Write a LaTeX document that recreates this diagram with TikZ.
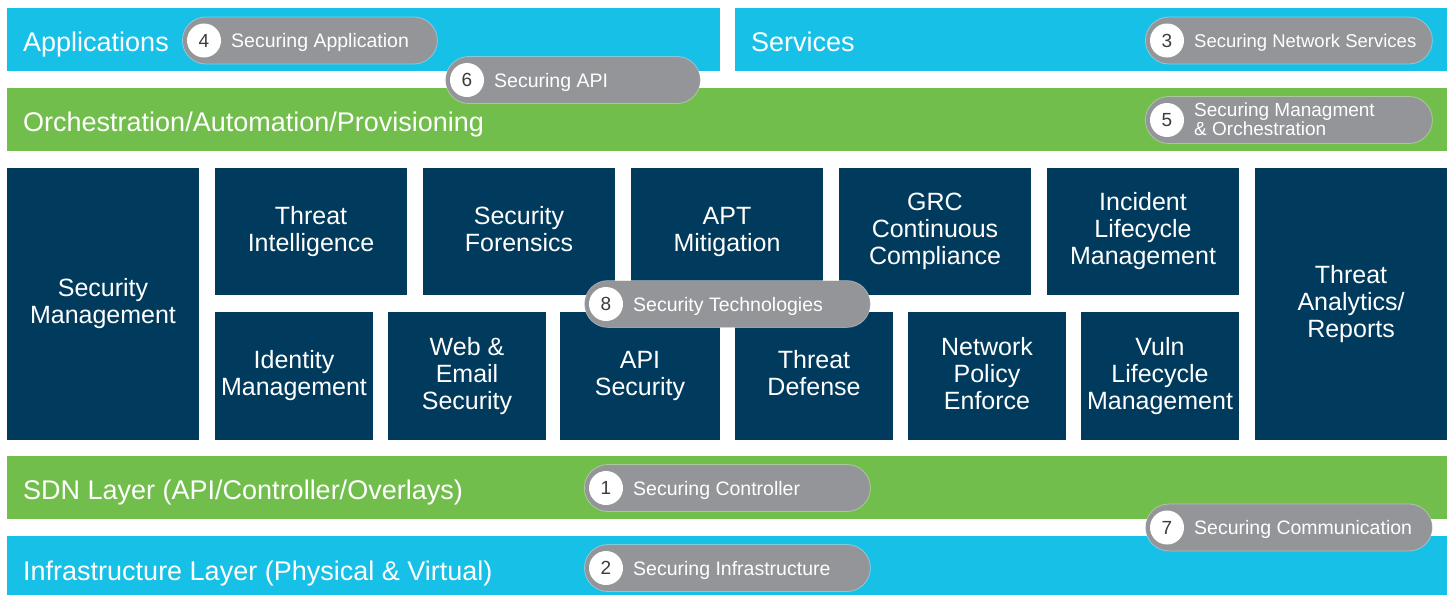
\documentclass[tikz,border=0pt]{standalone}
\usepackage{fontspec}
\setmainfont{Liberation Sans}
\definecolor{cyanL}{RGB}{23,192,230}
\definecolor{greenL}{RGB}{114,190,76}
\definecolor{navyB}{RGB}{0,58,92}
\definecolor{pillG}{RGB}{147,149,152}
\definecolor{numG}{RGB}{60,60,60}
\newcommand{\dz}{\vphantom{y}}
\begin{document}
\begin{tikzpicture}[x=1pt,y=-1pt,
  bar/.style={anchor=north west, inner sep=0, outer sep=0, draw=none},
  lbl/.style={anchor=west, inner sep=0, text=white, font=\fontsize{27}{27}\selectfont, text height=19.5, text depth=0},
  tech/.style={fill=navyB, inner sep=0, outer sep=0, text=white, align=center, font=\fontsize{25}{27}\selectfont},
  pill/.style={anchor=west, fill=pillG, rounded corners=23.5, minimum height=47, inner sep=0, draw=white, draw opacity=0.35, line width=0.8},
  num/.style={circle, fill=white, minimum size=34, inner sep=0, text=numG, font=\fontsize{19}{19}\selectfont},
  ptxt/.style={anchor=west, inner sep=0, text=white, font=\fontsize{19.5}{18}\selectfont, text height=14, text depth=0, align=left}
]
\useasboundingbox (0,0) rectangle (1450,595);
% layer bars
\node[bar, fill=cyanL, minimum width=713, minimum height=63] (app) at (7,8) {};
\node[bar, fill=cyanL, minimum width=712, minimum height=63] (srv) at (735,8) {};
\node[bar, fill=greenL, minimum width=1440, minimum height=63] (orch) at (7,88) {};
\node[bar, fill=greenL, minimum width=1440, minimum height=63] (sdn) at (7,456) {};
\node[bar, fill=cyanL, minimum width=1440, minimum height=59] (infra) at (7,536) {};
\node[lbl] (appL) at (23,42) {Applications};
\node[lbl] (srvL) at (751,42) {Services};
\node[lbl] (orchL) at (23,122) {Orchestration/Automation/Provisioning};
\node[lbl] (sdnL) at (23,490) {SDN Layer (API/Controller/Overlays)};
\node[lbl] (infraL) at (23,571) {Infrastructure Layer (Physical \& Virtual)};
% technology boxes
\node[tech, minimum width=192, minimum height=272] (secm) at (103,304) {Security\\Management\dz};
\node[tech, minimum width=192, minimum height=127] (ti) at (311,231.5) {Threat\\Intelligence\dz};
\node[tech, minimum width=192, minimum height=127] (sf) at (519,231.5) {Security\\Forensics\dz};
\node[tech, minimum width=192, minimum height=127] (apt) at (727,231.5) {APT\\Mitigation\dz};
\node[tech, minimum width=192, minimum height=127] (grc) at (935,231.5) {GRC\\Continuous\\Compliance\dz};
\node[tech, minimum width=192, minimum height=127] (ilm) at (1143,231.5) {Incident\\Lifecycle\\Management\dz};
\node[tech, minimum width=192, minimum height=272] (tar) at (1351,304) {Threat\\Analytics/\\Reports\dz};
\node[tech, minimum width=158, minimum height=128] (idm) at (294,376) {Identity\\Management\dz};
\node[tech, minimum width=158, minimum height=128] (wes) at (467,376) {Web \&\\Email\\Security\dz};
\node[tech, minimum width=160, minimum height=128] (apis) at (640,376) {API\\Security\dz};
\node[tech, minimum width=158, minimum height=128] (td) at (814,376) {Threat\\Defense\dz};
\node[tech, minimum width=158, minimum height=128] (npe) at (987,376) {Network\\Policy\\Enforce\dz};
\node[tech, minimum width=158, minimum height=128] (vlm) at (1160,376) {Vuln\\Lifecycle\\Management\dz};
% pills
\node[pill, minimum width=255] (p4) at (182,40.5) {};
\node[pill, minimum width=255] (p6) at (445,80) {};
\node[pill, minimum width=287] (p3) at (1145,40.5) {};
\node[pill, minimum width=287] (p5) at (1145,120) {};
\node[pill, minimum width=286] (p8) at (584,304) {};
\node[pill, minimum width=286] (p1) at (584,488) {};
\node[pill, minimum width=286] (p2) at (584,568) {};
\node[pill, minimum width=287] (p7) at (1145,527.5) {};
% numbers
\node[num] (n4) at ([xshift=22]p4.west) {4};
\node[num] (n6) at ([xshift=22]p6.west) {6};
\node[num] (n3) at ([xshift=22]p3.west) {3};
\node[num] (n5) at ([xshift=22]p5.west) {5};
\node[num] (n8) at ([xshift=22]p8.west) {8};
\node[num] (n1) at ([xshift=22]p1.west) {1};
\node[num] (n2) at ([xshift=22]p2.west) {2};
\node[num] (n7) at ([xshift=22]p7.west) {7};
% pill texts
\node[ptxt] (t4) at ([xshift=49]p4.west) {Securing Application};
\node[ptxt] (t6) at ([xshift=49]p6.west) {Securing API};
\node[ptxt, font=\fontsize{18.5}{18}\selectfont] (t3) at ([xshift=49]p3.west) {Securing Network Services};
\node[anchor=west, inner sep=0, text=white, align=left, font=\fontsize{19}{19}\selectfont] (t5) at ([xshift=49,yshift=1]p5.west) {Securing Managment\\\& Orchestration};
\node[ptxt] (t8) at ([xshift=49]p8.west) {Security Technologies};
\node[ptxt] (t1) at ([xshift=49]p1.west) {Securing Controller};
\node[ptxt] (t2) at ([xshift=49]p2.west) {Securing Infrastructure};
\node[ptxt] (t7) at ([xshift=49]p7.west) {Securing Communication};
\end{tikzpicture}
\end{document}
